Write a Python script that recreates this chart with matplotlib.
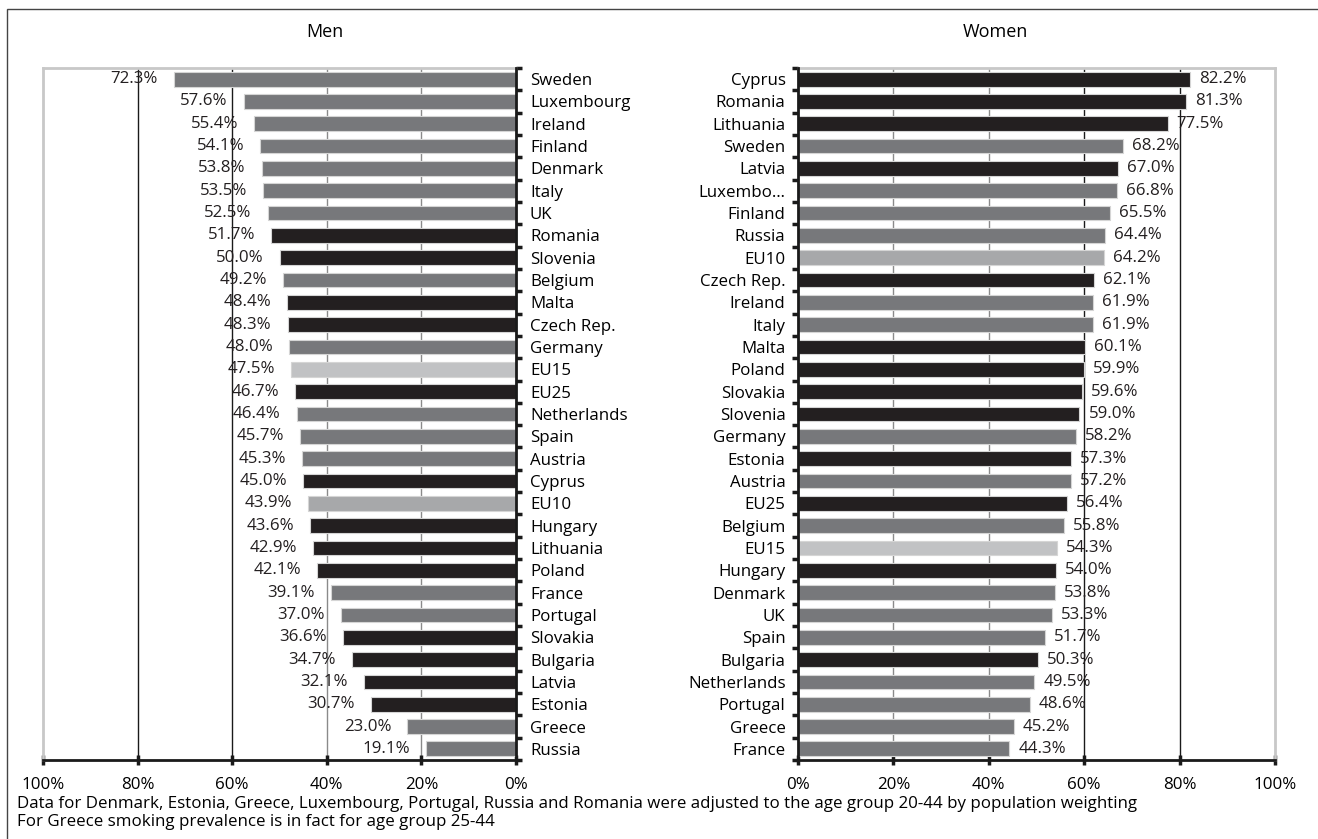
import matplotlib
matplotlib.use('Agg')
import matplotlib.pyplot as plt
from matplotlib.patches import Rectangle

plt.rcParams['font.family'] = ['Open Sans', 'DejaVu Sans']

# Colour groups: 'n' = new member / candidate, 'o' = old member, 'e15' = EU15, 'e10' = EU10
COLORS = {'n': '#231f20', 'o': '#77787b', 'e15': '#c1c2c4', 'e10': '#a7a8aa'}

men_countries = ['Sweden', 'Luxembourg', 'Ireland', 'Finland', 'Denmark', 'Italy', 'UK',
                 'Romania', 'Slovenia', 'Belgium', 'Malta', 'Czech Rep.', 'Germany', 'EU15',
                 'EU25', 'Netherlands', 'Spain', 'Austria', 'Cyprus', 'EU10', 'Hungary',
                 'Lithuania', 'Poland', 'France', 'Portugal', 'Slovakia', 'Bulgaria', 'Latvia',
                 'Estonia', 'Greece', 'Russia']
men_values = [72.3, 57.6, 55.4, 54.1, 53.8, 53.5, 52.5, 51.7, 50.0, 49.2, 48.4, 48.3, 48.0,
              47.5, 46.7, 46.4, 45.7, 45.3, 45.0, 43.9, 43.6, 42.9, 42.1, 39.1, 37.0, 36.6,
              34.7, 32.1, 30.7, 23.0, 19.1]
men_groups = ['o', 'o', 'o', 'o', 'o', 'o', 'o', 'n', 'n', 'o', 'n', 'n', 'o', 'e15',
              'n', 'o', 'o', 'o', 'n', 'e10', 'n', 'n', 'n', 'o', 'o', 'n', 'n', 'n',
              'n', 'o', 'o']

women_countries = ['Cyprus', 'Romania', 'Lithuania', 'Sweden', 'Latvia', 'Luxembo\u2026',
                   'Finland', 'Russia', 'EU10', 'Czech Rep.', 'Ireland', 'Italy', 'Malta',
                   'Poland', 'Slovakia', 'Slovenia', 'Germany', 'Estonia', 'Austria', 'EU25',
                   'Belgium', 'EU15', 'Hungary', 'Denmark', 'UK', 'Spain', 'Bulgaria',
                   'Netherlands', 'Portugal', 'Greece', 'France']
women_values = [82.2, 81.3, 77.5, 68.2, 67.0, 66.8, 65.5, 64.4, 64.2, 62.1, 61.9, 61.9,
                60.1, 59.9, 59.6, 59.0, 58.2, 57.3, 57.2, 56.4, 55.8, 54.3, 54.0, 53.8,
                53.3, 51.7, 50.3, 49.5, 48.6, 45.2, 44.3]
women_groups = ['n', 'n', 'n', 'o', 'n', 'o', 'o', 'o', 'e10', 'n', 'o', 'o', 'n', 'n',
                'n', 'n', 'o', 'n', 'o', 'n', 'o', 'e15', 'n', 'o', 'o', 'o', 'n', 'o',
                'o', 'o', 'o']

x_ticks = [0, 20, 40, 60, 80, 100]
FS = 12.2

fig = plt.figure(figsize=(13.18, 8.39), dpi=100)

# outer frame (cut off at right and bottom like the original)
fig.patches.append(Rectangle((7 / 1318, -0.1), 1.2, 1 - 9 / 839 + 0.1, transform=fig.transFigure,
                             fill=False, edgecolor='#444444', linewidth=1.0))

ax_m = fig.add_axes([43 / 1318, 1 - 760 / 839, 473 / 1318, 692 / 839])
ax_w = fig.add_axes([798 / 1318, 1 - 760 / 839, 477 / 1318, 692 / 839])


def draw_panel(ax, names, values, groups, side):
    n = len(names)
    ypos = list(range(n))
    cols = [COLORS[g] for g in groups]
    ax.barh(ypos, values, height=0.66, color=cols, edgecolor='#d5d5d5', linewidth=0.8, zorder=3)
    ax.set_xlim(0, 100)
    ax.set_ylim(n - 0.5, -0.5)
    if side == 'left':
        ax.invert_xaxis()
    # gridlines
    for t in [20, 40, 60, 80]:
        dark = (t >= 60)
        ax.axvline(t, color='#1a1a1a' if dark else '#8a8a8a', linewidth=1.0, zorder=1)
    # data labels
    for y, v in zip(ypos, values):
        if side == 'left':
            ax.annotate(f'{v:.1f}%', (v, y), xytext=(-11.5, 0), textcoords='offset points',
                        ha='right', va='center', fontsize=FS, color='#231f20', zorder=4)
        else:
            ax.annotate(f'{v:.1f}%', (v, y), xytext=(6.5, 0), textcoords='offset points',
                        ha='left', va='center', fontsize=FS, color='#231f20', zorder=4)
    # spines
    inner = 'right' if side == 'left' else 'left'
    outer = 'left' if side == 'left' else 'right'
    ax.spines[inner].set_color('#1a1a1a')
    ax.spines[inner].set_linewidth(2.0)
    ax.spines['bottom'].set_color('#1a1a1a')
    ax.spines['bottom'].set_linewidth(2.0)
    ax.spines[outer].set_color('#c8c8c8')
    ax.spines[outer].set_linewidth(2.0)
    ax.spines['top'].set_color('#c8c8c8')
    ax.spines['top'].set_linewidth(2.0)
    ax.spines[inner].set_zorder(5)
    ax.spines['bottom'].set_zorder(5)
    # y axis labels and boundary ticks
    if side == 'left':
        ax.yaxis.tick_right()
    ax.set_yticks(ypos)
    ax.set_yticklabels(names, fontsize=FS)
    ax.set_yticks([i - 0.5 for i in range(n + 1)], minor=True)
    ax.tick_params(axis='y', which='major', length=0, pad=10 if side == 'left' else 9)
    ax.tick_params(axis='y', which='minor', length=4, width=2.5, direction='out', color='#1a1a1a')
    # x axis
    ax.set_xticks(x_ticks)
    ax.set_xticklabels([f'{t}%' for t in x_ticks], fontsize=FS)
    ax.tick_params(axis='x', which='major', length=7, width=2.5, direction='inout',
                   color='#1a1a1a', pad=9)


draw_panel(ax_m, men_countries, men_values, men_groups, 'left')
draw_panel(ax_w, women_countries, women_values, women_groups, 'right')

fig.text(325 / 1318, 1 - 32 / 839, 'Men', ha='center', va='center', fontsize=13)
fig.text(995 / 1318, 1 - 32 / 839, 'Women', ha='center', va='center', fontsize=13)

fig.text(17 / 1318, 1 - 804 / 839,
         'Data for Denmark, Estonia, Greece, Luxembourg, Portugal, Russia and Romania were '
         'adjusted to the age group 20-44 by population weighting',
         ha='left', va='center', fontsize=FS)
fig.text(17 / 1318, 1 - 822 / 839, 'For Greece smoking prevalence is in fact for age group 25-44',
         ha='left', va='center', fontsize=FS)

plt.savefig('out.png', dpi=100)
plt.close()
